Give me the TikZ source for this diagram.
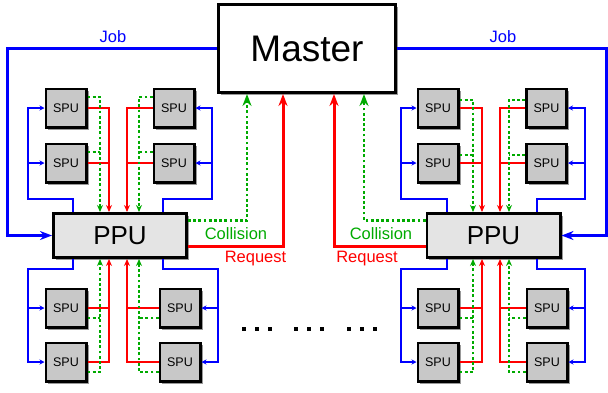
\documentclass[tikz,border=0pt]{standalone}
\usepackage{fontspec}
\setmainfont{Liberation Sans}
\usetikzlibrary{arrows.meta,shadows}

\definecolor{jobblue}{RGB}{0,0,255}
\definecolor{reqred}{RGB}{255,0,0}
\definecolor{colgreen}{RGB}{0,170,0}
\definecolor{spugray}{RGB}{200,200,200}
\definecolor{ppugray}{RGB}{228,228,228}

\tikzset{
    unit/.style={draw, line width=2.8pt, inner sep=0pt,
        drop shadow={shadow xshift=2.5pt, shadow yshift=-2.5pt, fill=black, opacity=.4}},
    spu/.style={unit, fill=spugray, minimum width=40.2pt, minimum height=38.2pt,
        font=\fontsize{12.5}{14}\selectfont},
    ppu/.style={unit, fill=ppugray, minimum width=133.2pt, minimum height=44.2pt,
        font=\fontsize{26}{28}\selectfont},
    jobline/.style={draw=jobblue, line width=2pt, -{Stealth[length=5pt,width=5pt]}},
    reqline/.style={draw=reqred, line width=2pt, -{Stealth[length=7pt,width=6pt]}},
    colline/.style={draw=colgreen, line width=2.6pt, dash pattern=on 2.8pt off 2.4pt,
        -{Stealth[length=7pt,width=6pt]}},
    bigtip/.style={-{Stealth[length=12pt,width=9pt]}},
    lbl/.style={font=\fontsize{16.5}{18}\selectfont}
}

\begin{document}
\begin{tikzpicture}[x=1pt, y=-1pt]
    \useasboundingbox (0,0) rectangle (608,392);

    \node[unit, fill=white, minimum width=177.2pt, minimum height=88.2pt,
        font=\fontsize{37}{40}\selectfont] (master) at (307,48.5) {Master};
    \node[ppu] (ppuL) at (120,235.5) {PPU};
    \node[ppu] (ppuR) at (493.5,235.5) {PPU};

    % jobs from the master
    \coordinate (jl) at (7,0);
    \coordinate (jr) at (606,0);
    \draw[jobline, line width=3pt, bigtip]
        (master.west) -- (master.west -| jl) |- (ppuL.west);
    \draw[jobline, line width=3pt, bigtip]
        (master.east) -- (master.east -| jr) |- (ppuR.east);
    \node[lbl, text=jobblue] (jobL) at (113,37) {Job};
    \node[lbl, text=jobblue] (jobR) at (503,37) {Job};

    % collisions and requests to the master
    \coordinate (cl) at (247,0);
    \coordinate (rl) at (283,0);
    \coordinate (rr) at (334,0);
    \coordinate (cr) at (364,0);
    \draw[colline, line width=2.8pt, bigtip] ([yshift=15pt]ppuL.east) -| (master.south -| cl);
    \draw[reqline, line width=3pt, bigtip] ([yshift=-11pt]ppuL.east) -| (master.south -| rl);
    \draw[colline, line width=2.8pt, bigtip] ([yshift=15pt]ppuR.west) -| (master.south -| cr);
    \draw[reqline, line width=3pt, bigtip] ([yshift=-11pt]ppuR.west) -| (master.south -| rr);
    \node[lbl, text=colgreen] (colL) at (236,234) {Collision};
    \node[lbl, text=reqred] (reqL) at (255.5,259) {Request};
    \node[lbl, text=colgreen] (colR) at (381,234) {Collision};
    \node[lbl, text=reqred] (reqR) at (367,259) {Request};

    % SPU groups: near/far SPU, inner/outer side, blue, red and green columns
    \foreach \g/\p/\a/\sx/\yn/\yf/\si/\so/\bx/\by/\ox/\rx/\gx/\gy in {
        1/ppuL/north/66/163/108/east/west/73/199/28/109/100/11,
        2/ppuL/north/174/163/108/west/east/163/199/212/127/139/11,
        3/ppuL/south/66/308/362/east/west/73/269/28/109/100/-10,
        4/ppuL/south/180/308/362/west/east/163/269/218/127/139/-10,
        5/ppuR/north/438/163/108/east/west/447/199/401/482/473/8,
        6/ppuR/north/546.5/163/108/west/east/537/199/585/500/509/8,
        7/ppuR/south/438/308/362/east/west/447/269/401/482/473/-10,
        8/ppuR/south/547/308/362/west/east/537/269/585/500/509/-10}
    {
        \node[spu] (s\g n) at (\sx,\yn) {SPU};
        \node[spu] (s\g f) at (\sx,\yf) {SPU};
        \coordinate (b) at (\bx,\by);
        \coordinate (o) at (\ox,\by);
        \coordinate (r) at (\rx,0);
        \coordinate (c) at (\gx,0);
        \coordinate (gn) at ([yshift=\gy pt]s\g n.\si);
        \draw[jobline] (\p.\a -| b) -- (b) -- (o) |- (s\g f.\so);
        \draw[jobline] (o |- s\g n.\so) -- (s\g n.\so);
        \draw[reqline] (s\g f.\si) -| (\p.\a -| r);
        \draw[reqline, -] (s\g n.\si) -- (s\g n.\si -| r);
        \draw[colline] ([yshift=\gy pt]s\g f.\si) -| (\p.\a -| c);
        \draw[colline, -] (gn) -- (gn -| c);
    }

    % more PPUs
    \foreach \x in {244,257,270,296,309,322,349,362,375}
        \fill (\x-2,327) rectangle ++(4,4);
\end{tikzpicture}
\end{document}
